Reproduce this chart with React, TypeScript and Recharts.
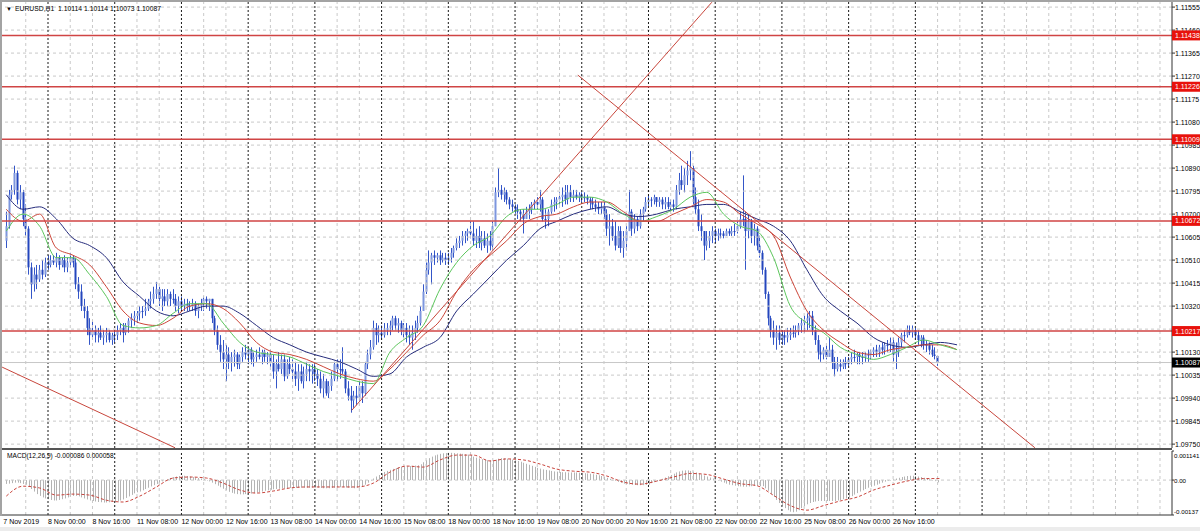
import React from "react";
import { ComposedChart, Bar, Line, XAxis, YAxis, ReferenceLine } from "recharts";

const FONT = "'Liberation Sans', Arial, sans-serif";

// EURUSD H1 candles, 7 Nov 2019 .. 27 Nov 2019 (open = previous close)
const firstOpen = 1.1059;

const highs = [
  1.1071, 1.108, 1.1082, 1.109, 1.1088, 1.1082, 1.108, 1.1074,
  1.1065, 1.105, 1.1048, 1.1049, 1.1049, 1.1051, 1.1052, 1.1053,
  1.1053, 1.1053, 1.1054, 1.1053, 1.1052, 1.1053, 1.1052, 1.1054,
  1.1053, 1.1052, 1.1044, 1.1041, 1.1035, 1.1032, 1.1027, 1.1026,
  1.1024, 1.1023, 1.1024, 1.1022, 1.1023, 1.1022, 1.1021, 1.1022,
  1.1024, 1.1025, 1.1025, 1.1025, 1.1027, 1.1029, 1.103, 1.103,
  1.1032, 1.1032, 1.1035, 1.1035, 1.1038, 1.104, 1.1042, 1.104,
  1.1039, 1.1039, 1.1039, 1.1038, 1.1039, 1.1037, 1.1036, 1.1036,
  1.1035, 1.1035, 1.1034, 1.1035, 1.1034, 1.1033, 1.1035, 1.1036,
  1.1036, 1.1035, 1.1035, 1.1028, 1.1024, 1.102, 1.1018, 1.1016,
  1.1015, 1.1013, 1.1014, 1.1013, 1.1012, 1.1015, 1.1016, 1.1015,
  1.1015, 1.1013, 1.1014, 1.1015, 1.1014, 1.1014, 1.1013, 1.1014,
  1.1012, 1.101, 1.1013, 1.1012, 1.1012, 1.101, 1.1011, 1.101,
  1.1009, 1.1008, 1.1008, 1.1007, 1.1009, 1.1008, 1.1008, 1.1008,
  1.1006, 1.1005, 1.1004, 1.1002, 1.1001, 1.1005, 1.1009, 1.101,
  1.101, 1.1015, 1.1006, 1.1001, 1.0999, 1.0997, 1.0999, 1.1001,
  1.1001, 1.1009, 1.1014, 1.1018, 1.1026, 1.1025, 1.1024, 1.1024,
  1.1025, 1.1025, 1.1026, 1.1028, 1.1028, 1.1027, 1.1026, 1.1025,
  1.1025, 1.1024, 1.1024, 1.1026, 1.1028, 1.1032, 1.1041, 1.105,
  1.1055, 1.1054, 1.1055, 1.1054, 1.1055, 1.1054, 1.1054, 1.1054,
  1.1056, 1.1057, 1.106, 1.1061, 1.1063, 1.1063, 1.1064, 1.1067,
  1.1067, 1.1064, 1.1065, 1.1063, 1.1063, 1.1062, 1.1063, 1.1067,
  1.1081, 1.1089, 1.1082, 1.1081, 1.108, 1.1077, 1.1076, 1.1074,
  1.1074, 1.1072, 1.1072, 1.1073, 1.1074, 1.1075, 1.1076, 1.1077,
  1.108, 1.1077, 1.1072, 1.1072, 1.1076, 1.1077, 1.1077, 1.1079,
  1.1081, 1.1082, 1.1082, 1.1082, 1.108, 1.108, 1.1079, 1.1079,
  1.1079, 1.1078, 1.1077, 1.1077, 1.1076, 1.1075, 1.1075, 1.1075,
  1.1072, 1.107, 1.1068, 1.1067, 1.1065, 1.1065, 1.1063, 1.1065,
  1.108, 1.1072, 1.107, 1.1069, 1.1072, 1.1073, 1.1077, 1.1078,
  1.1077, 1.1078, 1.1077, 1.1077, 1.1077, 1.1077, 1.1077, 1.1076,
  1.1076, 1.1082, 1.1087, 1.109, 1.1089, 1.1092, 1.1096, 1.109,
  1.1081, 1.1076, 1.107, 1.1063, 1.1063, 1.1063, 1.1065, 1.1064,
  1.1064, 1.1064, 1.1063, 1.1064, 1.1064, 1.1065, 1.1066, 1.1067,
  1.1071, 1.1086, 1.1071, 1.107, 1.1068, 1.1066, 1.1065, 1.1061,
  1.1055, 1.1048, 1.1038, 1.1028, 1.1026, 1.1024, 1.1024, 1.1022,
  1.1022, 1.1023, 1.1023, 1.1024, 1.1024, 1.1025, 1.1027, 1.1028,
  1.1029, 1.103, 1.103, 1.1024, 1.102, 1.1016, 1.1015, 1.1016,
  1.1019, 1.1016, 1.1011, 1.1011, 1.101, 1.101, 1.1011, 1.1011,
  1.1013, 1.1014, 1.1013, 1.1013, 1.1013, 1.1013, 1.1014, 1.1014,
  1.1015, 1.1016, 1.1016, 1.1017, 1.1017, 1.1018, 1.1019, 1.1019,
  1.1017, 1.1019, 1.1021, 1.1022, 1.1024, 1.1024, 1.1024, 1.1023,
  1.1022, 1.102, 1.102, 1.1018, 1.1017, 1.1016, 1.1015, 1.10114,
];

const lows = [
  1.1056, 1.1064, 1.1076, 1.1078, 1.1074, 1.1072, 1.1065, 1.1061,
  1.1045, 1.1035, 1.1038, 1.1039, 1.1042, 1.1043, 1.1044, 1.1047,
  1.1048, 1.1049, 1.1048, 1.1047, 1.1048, 1.1046, 1.1046, 1.1048,
  1.1048, 1.1039, 1.1035, 1.103, 1.1027, 1.102, 1.1016, 1.1018,
  1.1017, 1.1017, 1.1018, 1.1016, 1.1017, 1.1017, 1.1016, 1.1017,
  1.1018, 1.102, 1.1017, 1.102, 1.1021, 1.1023, 1.1024, 1.1025,
  1.1026, 1.1027, 1.1028, 1.103, 1.1031, 1.1033, 1.1035, 1.1032,
  1.103, 1.1032, 1.1032, 1.1032, 1.1033, 1.103, 1.1029, 1.103,
  1.103, 1.103, 1.103, 1.103, 1.1028, 1.1027, 1.103, 1.103,
  1.1031, 1.103, 1.1025, 1.102, 1.1014, 1.1009, 1.1006, 1.1001,
  1.1006, 1.1005, 1.1007, 1.1006, 1.1006, 1.1009, 1.101, 1.1008,
  1.1008, 1.1007, 1.1009, 1.101, 1.1008, 1.1009, 1.1008, 1.1007,
  1.1002, 1.0998, 1.1005, 1.1004, 1.1001, 1.1002, 1.1004, 1.1001,
  1.0999, 1.0997, 1.1, 1.0998, 1.1001, 1.1001, 1.1, 1.1001,
  1.0999, 1.0996, 1.0994, 1.0995, 1.0994, 1.0997, 1.1001, 1.1001,
  1.1002, 1.1004, 1.0996, 1.0993, 1.0988, 1.099, 1.0991, 1.0993,
  1.0992, 1.0995, 1.1006, 1.101, 1.1014, 1.1016, 1.1017, 1.1018,
  1.1019, 1.102, 1.102, 1.1022, 1.1022, 1.1021, 1.102, 1.1019,
  1.1017, 1.1016, 1.1014, 1.1018, 1.1021, 1.1024, 1.103, 1.1037,
  1.1045, 1.1041, 1.1049, 1.105, 1.1049, 1.105, 1.1049, 1.1049,
  1.105, 1.1052, 1.1055, 1.1056, 1.1057, 1.1058, 1.1059, 1.106,
  1.1057, 1.1056, 1.1056, 1.1055, 1.1056, 1.1054, 1.1055, 1.1055,
  1.1065, 1.1077, 1.1076, 1.1075, 1.1074, 1.1072, 1.1071, 1.107,
  1.1068, 1.1067, 1.1062, 1.1068, 1.1068, 1.107, 1.1072, 1.1072,
  1.1071, 1.1067, 1.1064, 1.1065, 1.107, 1.1071, 1.1072, 1.1074,
  1.1073, 1.1074, 1.1074, 1.1075, 1.1075, 1.1076, 1.1075, 1.1075,
  1.1075, 1.1074, 1.1072, 1.1072, 1.1071, 1.107, 1.107, 1.1068,
  1.1061, 1.1057, 1.1059, 1.1055, 1.1056, 1.1054, 1.1052, 1.1055,
  1.1063, 1.1061, 1.1062, 1.1063, 1.1064, 1.1067, 1.1071, 1.1073,
  1.1073, 1.1074, 1.1073, 1.1073, 1.1072, 1.1072, 1.1072, 1.1071,
  1.1071, 1.1072, 1.1078, 1.108, 1.1079, 1.1082, 1.1084, 1.1074,
  1.107, 1.1063, 1.1059, 1.1051, 1.1055, 1.1056, 1.1058, 1.1058,
  1.1059, 1.106, 1.106, 1.1061, 1.1061, 1.1061, 1.1061, 1.1062,
  1.1064, 1.1065, 1.1047, 1.106, 1.1058, 1.1057, 1.1055, 1.1052,
  1.1045, 1.1035, 1.1024, 1.1019, 1.1016, 1.1014, 1.1016, 1.1016,
  1.1016, 1.1017, 1.1018, 1.1019, 1.1019, 1.102, 1.1021, 1.1021,
  1.1022, 1.1023, 1.102, 1.1016, 1.101, 1.1009, 1.101, 1.101,
  1.1011, 1.1006, 1.1003, 1.1005, 1.1005, 1.1006, 1.1006, 1.1007,
  1.1008, 1.1009, 1.1008, 1.1008, 1.1008, 1.1009, 1.1009, 1.101,
  1.1011, 1.1011, 1.1011, 1.1012, 1.1012, 1.1013, 1.1013, 1.1009,
  1.1006, 1.1011, 1.1015, 1.1017, 1.1019, 1.102, 1.1019, 1.1018,
  1.1016, 1.1015, 1.1014, 1.1013, 1.1012, 1.1011, 1.101, 1.10073,
];

const closes = [
  1.1065, 1.1078, 1.108, 1.1087, 1.1076, 1.1079, 1.1068, 1.1064,
  1.1048, 1.1041, 1.1045, 1.1043, 1.1047, 1.1045, 1.105, 1.1049,
  1.1051, 1.105, 1.1052, 1.1049, 1.1051, 1.1048, 1.105, 1.1052,
  1.105, 1.1041, 1.1038, 1.1032, 1.103, 1.1023, 1.102, 1.1022,
  1.102, 1.1021, 1.1019, 1.102, 1.1021, 1.1018, 1.102, 1.102,
  1.1022, 1.1023, 1.1021, 1.1024, 1.1026, 1.1027, 1.1028, 1.1029,
  1.103, 1.103, 1.1031, 1.1034, 1.1035, 1.1037, 1.1039, 1.1035,
  1.1036, 1.1034, 1.1037, 1.1035, 1.1035, 1.1032, 1.1034, 1.1032,
  1.1033, 1.1032, 1.1032, 1.1033, 1.103, 1.1032, 1.1033, 1.1035,
  1.1034, 1.1035, 1.1027, 1.1022, 1.1016, 1.1013, 1.101, 1.1012,
  1.1009, 1.1011, 1.1012, 1.1008, 1.1011, 1.1013, 1.1012, 1.1014,
  1.101, 1.1011, 1.1012, 1.1011, 1.1013, 1.1011, 1.1012, 1.1009,
  1.1005, 1.1008, 1.1006, 1.101, 1.1003, 1.1008, 1.1006, 1.1005,
  1.1002, 1.1005, 1.1001, 1.1004, 1.1006, 1.1005, 1.1006, 1.1004,
  1.1002, 1.0998, 1.1001, 1.0996, 1.0999, 1.1002, 1.1008, 1.1006,
  1.1006, 1.1005, 1.0998, 1.0995, 1.0993, 1.0995, 1.0994, 1.0999,
  1.0996, 1.1008, 1.1012, 1.1015, 1.1023, 1.102, 1.1021, 1.102,
  1.1022, 1.1023, 1.1024, 1.1027, 1.1024, 1.1025, 1.1022, 1.1023,
  1.102, 1.1019, 1.1021, 1.1023, 1.1025, 1.103, 1.1038, 1.1047,
  1.105, 1.1053, 1.1052, 1.1053, 1.1051, 1.1052, 1.1051, 1.1052,
  1.1054, 1.1056, 1.1058, 1.1059, 1.1061, 1.1062, 1.1063, 1.1062,
  1.1059, 1.1061, 1.1058, 1.106, 1.1057, 1.1059, 1.1057, 1.1065,
  1.1079, 1.108, 1.1078, 1.1079, 1.1076, 1.1074, 1.1073, 1.1072,
  1.1071, 1.107, 1.1068, 1.1071, 1.1072, 1.1074, 1.1075, 1.1074,
  1.1076, 1.1068, 1.1068, 1.1071, 1.1074, 1.1075, 1.1076, 1.1077,
  1.1078, 1.1076, 1.1079, 1.1077, 1.1078, 1.1077, 1.1078, 1.1077,
  1.1077, 1.1076, 1.1075, 1.1074, 1.1073, 1.1072, 1.1073, 1.107,
  1.1064, 1.1065, 1.1061, 1.1057, 1.1063, 1.1056, 1.1059, 1.1063,
  1.1071, 1.1064, 1.1068, 1.1065, 1.107, 1.1072, 1.1075, 1.1076,
  1.1076, 1.1077, 1.1075, 1.1076, 1.1074, 1.1075, 1.1073, 1.1074,
  1.1073, 1.108, 1.1084, 1.1082, 1.1086, 1.1088, 1.1089, 1.1077,
  1.1072, 1.1065, 1.1063, 1.1057, 1.1059, 1.1061, 1.1063, 1.1061,
  1.1062, 1.1062, 1.1061, 1.1063, 1.1062, 1.1063, 1.1063, 1.1065,
  1.1068, 1.1068, 1.1063, 1.1067, 1.1061, 1.1064, 1.1057, 1.1054,
  1.1047, 1.1037, 1.1027, 1.1022, 1.1019, 1.1021, 1.1018, 1.102,
  1.1019, 1.102, 1.1021, 1.1021, 1.1022, 1.1024, 1.1025, 1.1026,
  1.1027, 1.1028, 1.1022, 1.1018, 1.1013, 1.1012, 1.1014, 1.1011,
  1.1014, 1.1009, 1.1006, 1.1008, 1.1007, 1.1009, 1.1008, 1.101,
  1.1011, 1.1011, 1.1012, 1.1011, 1.1011, 1.1012, 1.1012, 1.1013,
  1.1014, 1.1013, 1.1015, 1.1014, 1.1016, 1.1016, 1.1017, 1.1012,
  1.1013, 1.1017, 1.102, 1.102, 1.1022, 1.1021, 1.1022, 1.102,
  1.1018, 1.1019, 1.1016, 1.1016, 1.1014, 1.1012, 1.10114, 1.10087,
];

// moving averages, one value every 6 bars
const maStep = 6;
const maFast = [
  1.1063, 1.107, 1.1065, 1.1052, 1.1052, 1.1045, 1.1036, 1.1024, 1.1023, 1.1024,
  1.1029, 1.1033, 1.1033, 1.1025, 1.1017, 1.1013, 1.1012, 1.1011, 1.1008, 1.1005,
  1.1003, 1.1001, 1.1, 1.1013, 1.1019, 1.1024, 1.1039, 1.105, 1.1057, 1.1061,
  1.1069, 1.1072, 1.1072, 1.1074, 1.1077, 1.1077, 1.1075, 1.107, 1.1067, 1.1069,
  1.1072, 1.1077, 1.1079, 1.107, 1.1065, 1.1063, 1.1052, 1.1032, 1.1025, 1.1021,
  1.1015, 1.1012, 1.101, 1.1012, 1.1015, 1.1018, 1.1016, 1.1014,
];
const maMid = [
  1.1072, 1.1067, 1.107, 1.1056, 1.1053, 1.1049, 1.104, 1.103, 1.1025, 1.1024,
  1.1027, 1.1032, 1.1033, 1.1031, 1.1025, 1.1017, 1.1013, 1.1012, 1.101, 1.1007,
  1.1004, 1.1002, 1.1001, 1.1006, 1.1013, 1.102, 1.1026, 1.1038, 1.1047, 1.1053,
  1.1059, 1.1066, 1.1069, 1.107, 1.1073, 1.1075, 1.1075, 1.1071, 1.1067, 1.1067,
  1.107, 1.1073, 1.1076, 1.1075, 1.107, 1.1066, 1.1061, 1.1044, 1.103, 1.1022,
  1.1017, 1.1013, 1.1012, 1.1014, 1.1015, 1.1016, 1.1016, 1.1014,
];
const maSlow = [
  1.1078, 1.1072, 1.1073, 1.1068, 1.106, 1.1057, 1.1052, 1.1042, 1.1036, 1.103,
  1.1028, 1.103, 1.1032, 1.1032, 1.1029, 1.1024, 1.1019, 1.1016, 1.1013, 1.1011,
  1.1009, 1.1006, 1.1003, 1.1004, 1.1011, 1.1015, 1.1019, 1.103, 1.1037, 1.1044,
  1.1051, 1.1057, 1.1064, 1.1067, 1.107, 1.1072, 1.1073, 1.107, 1.1069, 1.107,
  1.1072, 1.1073, 1.1074, 1.1074, 1.1071, 1.1068, 1.1065, 1.1059, 1.1047, 1.1036,
  1.103, 1.1025, 1.1019, 1.1016, 1.1015, 1.1016, 1.1017, 1.1016,
];

// MACD(12,26,9) in points (0.00001), main per bar, signal every 6 bars
const macdMain = [
  -15, -14, -12, -10, -10, -12, -15, -18,
  -25, -35, -45, -55, -62, -68, -72, -75,
  -78, -80, -80, -78, -75, -72, -68, -65,
  -62, -62, -64, -68, -72, -76, -80, -82,
  -84, -86, -87, -88, -88, -87, -86, -85,
  -83, -80, -76, -70, -64, -58, -52, -48,
  -45, -40, -35, -30, -25, -20, -15, -10,
  -5, 0, 4, 8, 12, 14, 16, 17,
  17, 16, 14, 12, 10, 8, 6, 4,
  0, -5, -10, -16, -22, -28, -34, -40,
  -46, -50, -53, -55, -56, -56, -55, -54,
  -53, -51, -49, -47, -45, -42, -40, -38,
  -36, -35, -34, -33, -32, -32, -31, -31,
  -30, -30, -30, -30, -30, -30, -30, -30,
  -30, -31, -32, -32, -32, -31, -30, -29,
  -28, -28, -29, -30, -31, -32, -30, -28,
  -25, -18, -10, -2, 6, 14, 20, 26,
  32, 36, 40, 44, 47, 50, 52, 53,
  54, 55, 56, 57, 58, 62, 70, 78,
  86, 92, 97, 100, 103, 105, 106, 107,
  107, 106, 105, 104, 103, 102, 100, 98,
  92, 88, 85, 82, 80, 78, 77, 76,
  80, 84, 86, 86, 84, 82, 80, 78,
  75, 72, 68, 64, 60, 56, 52, 48,
  45, 42, 40, 38, 36, 34, 33, 32,
  31, 31, 30, 30, 30, 30, 29, 28,
  27, 26, 25, 23, 21, 19, 16, 13,
  9, 5, 1, -3, -7, -11, -14, -16,
  -17, -18, -19, -20, -20, -20, -19, -18,
  -12, -8, -4, 0, 5, 10, 15, 20,
  25, 30, 34, 37, 38, 38, 36, 33,
  30, 26, 22, 18, 14, 10, 6, 2,
  -2, -6, -10, -14, -18, -20, -22, -24,
  -25, -26, -26, -25, -24, -22, -22, -24,
  -24, -32, -42, -54, -66, -78, -90, -100,
  -110, -118, -124, -126, -124, -118, -110, -102,
  -95, -90, -86, -84, -82, -82, -82, -82,
  -82, -82, -82, -80, -78, -75, -72, -68,
  -63, -57, -51, -45, -40, -35, -30, -26,
  -22, -18, -14, -10, -6, -3, 0, 3,
  6, 9, 12, 14, 16, 17, 17, 16,
  14, 12, 9, 6, 3, 0, -4, -9,
];
const macdSignal = [
  -63, -24, -31, -59, -55, -59, -79, -86, -63, -27,
  8, 12, 8, -12, -39, -51, -43, -31, -27, -27,
  -27, -27, -12, 31, 55, 51, 79, 98, 98, 75,
  83, 79, 63, 43, 35, 31, 16, -8, -16, -4,
  12, 26, 22, 4, -14, -22, -60, -100, -118, -100,
  -82, -67, -39, -20, -4, 6, 6,
];

const priceTicks = [
  1.0975, 1.09845, 1.0994, 1.10035, 1.1013, 1.10225, 1.1032, 1.10415, 1.1051, 1.10605,
  1.107, 1.10795, 1.1089, 1.10985, 1.1108, 1.11175, 1.1127, 1.11365, 1.1146, 1.11555,
];
const levels = [1.11438, 1.11226, 1.11009, 1.10672, 1.10217];
const bidPrice = 1.10087;

const macdTicks = [114.1, 0, -137];
const macdTickText = ["0.001141", "0.00", "-0.00137"];

const timeBars = [0, 15, 31, 47, 63, 79, 95, 111, 127, 143, 159, 175, 191, 207, 223, 239, 255, 271, 287, 303, 319];
const timeTexts = [
  "7 Nov 2019", "8 Nov 00:00", "8 Nov 16:00", "11 Nov 08:00", "12 Nov 00:00", "12 Nov 16:00",
  "13 Nov 08:00", "14 Nov 00:00", "14 Nov 16:00", "15 Nov 08:00", "18 Nov 00:00", "18 Nov 16:00",
  "19 Nov 08:00", "20 Nov 00:00", "20 Nov 16:00", "21 Nov 08:00", "22 Nov 00:00", "22 Nov 16:00",
  "25 Nov 08:00", "26 Nov 00:00", "26 Nov 16:00",
];

// hand drawn trend lines: [bar, price] -> [bar, price]
const trendFrom = [[124.3, 1.0989], [205.6, 1.11274], [-1.5, 1.10068]];
const trendTo = [[253.8, 1.11575], [370, 1.09735], [60.7, 1.09735]];

const X_DOMAIN: [number, number] = [-1.547, 419.32];
const PRICE_DOMAIN: [number, number] = [1.09734, 1.11576];
const MACD_DOMAIN: [number, number] = [-137, 114.1];

// day separators (dark) and the light grid in between
const dayBars: number[] = [];
for (let b = 15; b <= 351; b += 24) dayBars.push(b);
const gridBars: number[] = [];
for (let b = 7; b <= 415; b += 8) if (!dayBars.includes(b)) gridBars.push(b);

// axis ticks: scale labels first, then the tags so they paint on top
const axisTicks = [...priceTicks, ...levels, bidPrice];

const priceRows = Array.from({ length: 343 }, (_, i) => {
  const row: any = { i };
  if (i < closes.length) {
    row.open = i === 0 ? firstOpen : closes[i - 1];
    row.high = highs[i];
    row.low = lows[i];
    row.close = closes[i];
  }
  if (i % maStep === 0) {
    const k = i / maStep;
    row.fast = maFast[k];
    row.mid = maMid[k];
    row.slow = maSlow[k];
  }
  return row;
});

const macdRows = Array.from({ length: 337 }, (_, i) => {
  const row: any = { i };
  if (i < macdMain.length) row.macd = macdMain[i];
  if (i % maStep === 0) row.signal = macdSignal[i / maStep];
  return row;
});

function Candle(props: any) {
  const { x, y, width, height, payload } = props;
  if (!payload || payload.high == null) return null;
  const { open, close, high, low } = payload;
  const top = Math.min(y, y + height);
  const h = Math.abs(height);
  const span = high - low || 1e-9;
  const py = (p: number) => top + ((high - p) / span) * h;
  const c = Math.round(x + width / 2);
  const bull = close > open;
  const bTop = py(Math.max(open, close));
  const bBot = py(Math.min(open, close));
  return (
    <g>
      <line x1={c + 0.5} x2={c + 0.5} y1={top} y2={top + Math.max(h, 1)} stroke="#3456c8" />
      <rect x={c - 0.5} y={bTop} width={2} height={Math.max(1, bBot - bTop)} fill={bull ? "#7d96de" : "#2446bd"} />
    </g>
  );
}

function HistBar(props: any) {
  const { x, y, width, height } = props;
  if (height == null || isNaN(y)) return null;
  const c = Math.round(x + width / 2);
  const top = Math.min(y, y + height);
  return <rect x={c} y={top} width={1} height={Math.max(0.5, Math.abs(height))} fill="#b4b4b4" />;
}

function PriceTick(props: any) {
  const { x, y, payload } = props;
  const v = payload.value;
  const isLevel = levels.includes(v);
  const isBid = v === bidPrice;
  if (isLevel || isBid) {
    return (
      <g>
        <rect x={x - 3} y={y - 5} width={30} height={10} fill={isBid ? "#000" : "#e8120c"} />
        <text x={x} y={y + 2.5} fontSize={7} fontFamily={FONT} fill="#fff">
          {v.toFixed(5)}
        </text>
      </g>
    );
  }
  return (
    <text x={x} y={y + 2.5} fontSize={7} fontFamily={FONT} fill="#000">
      {v.toFixed(5)}
    </text>
  );
}

function MacdTick(props: any) {
  const { x, y, payload } = props;
  const k = macdTicks.indexOf(payload.value);
  const dy = k === 0 ? 4 : k === 2 ? -4 : 0;
  return (
    <text x={x} y={y + dy + 2.5} fontSize={6.2} fontFamily={FONT} fill="#000">
      {macdTickText[k]}
    </text>
  );
}

function TimeTick(props: any) {
  const { x, y, payload } = props;
  const k = timeBars.indexOf(payload.value);
  return (
    <text x={x - (k === 0 ? 3 : 0)} y={y + 9} fontSize={7} fontFamily={FONT} fill="#000">
      {timeTexts[k]}
    </text>
  );
}

function gridLines(keyPrefix: string) {
  return [
    ...gridBars.map((b) => (
      <ReferenceLine key={keyPrefix + "g" + b} x={b} stroke="#c9c9c9" strokeDasharray="3 3" />
    )),
    ...dayBars.map((b) => (
      <ReferenceLine key={keyPrefix + "d" + b} x={b} stroke="#1a1a1a" strokeDasharray="2 2" />
    )),
  ];
}

export default function App() {
  return (
    <div
      style={{
        position: "fixed",
        left: 0,
        top: 0,
        width: 1200,
        height: 531,
        background: "#fff",
        overflow: "hidden",
        fontFamily: FONT,
      }}
    >
      <div style={{ position: "absolute", left: 0, top: 0 }}>
        <ComposedChart width={1200} height={450} data={priceRows} margin={{ top: 2, right: 0, bottom: 2, left: 2 }}>
          <XAxis type="number" dataKey="i" domain={X_DOMAIN} allowDataOverflow hide />
          <YAxis
            orientation="right"
            domain={PRICE_DOMAIN}
            allowDataOverflow
            ticks={axisTicks}
            interval={0}
            width={28}
            tickSize={3}
            tickMargin={0}
            axisLine={{ stroke: "#333" }}
            tickLine={{ stroke: "#333" }}
            tick={<PriceTick />}
          />
          {priceTicks.map((p) => (
            <ReferenceLine key={"h" + p} y={p} stroke="#c9c9c9" strokeDasharray="3 3" />
          ))}
          {gridLines("p")}
          <ReferenceLine y={bidPrice} stroke="#c8c8c8" />
          <Bar
            dataKey={(d: any) => (d.high == null ? null : [d.low, d.high])}
            barSize={2}
            shape={<Candle />}
            isAnimationActive={false}
          />
          <Line dataKey="slow" type="monotone" stroke="#262c7c" strokeWidth={1} dot={false} connectNulls isAnimationActive={false} />
          <Line dataKey="mid" type="monotone" stroke="#cc4538" strokeWidth={1} dot={false} connectNulls isAnimationActive={false} />
          <Line dataKey="fast" type="monotone" stroke="#5cc65c" strokeWidth={1} dot={false} connectNulls isAnimationActive={false} />
          {levels.map((lv) => (
            <ReferenceLine key={"lv" + lv} y={lv} stroke="#d04444" strokeWidth={1.5} />
          ))}
          {trendFrom.map((f, k) => (
            <ReferenceLine
              key={"t" + k}
              segment={[
                { x: f[0], y: f[1] },
                { x: trendTo[k][0], y: trendTo[k][1] },
              ]}
              stroke="#c8463c"
              strokeWidth={1}
              ifOverflow="visible"
            />
          ))}
        </ComposedChart>
      </div>

      <div style={{ position: "absolute", left: 0, top: 450 }}>
        <ComposedChart width={1200} height={81} data={macdRows} margin={{ top: 1, right: 0, bottom: 0, left: 2 }}>
          <XAxis
            type="number"
            dataKey="i"
            domain={X_DOMAIN}
            allowDataOverflow
            ticks={timeBars}
            interval={0}
            height={16}
            tickSize={0}
            tickMargin={0}
            tickLine={false}
            axisLine={{ stroke: "#333" }}
            tick={<TimeTick />}
          />
          <YAxis
            orientation="right"
            domain={MACD_DOMAIN}
            allowDataOverflow
            ticks={macdTicks}
            interval={0}
            width={28}
            tickSize={2}
            tickMargin={0}
            axisLine={{ stroke: "#333" }}
            tickLine={{ stroke: "#333" }}
            tick={<MacdTick />}
          />
          <ReferenceLine y={0} stroke="#c9c9c9" strokeDasharray="3 3" />
          {gridLines("m")}
          <Bar dataKey="macd" barSize={1} shape={<HistBar />} isAnimationActive={false} />
          <Line
            dataKey="signal"
            type="monotone"
            stroke="#c9443c"
            strokeWidth={1}
            strokeDasharray="3 2"
            dot={false}
            connectNulls
            isAnimationActive={false}
          />
        </ComposedChart>
      </div>

      {/* window frame and panel separators */}
      <div style={{ position: "absolute", left: 0, top: 0, width: 1200, height: 2, background: "#a3a3a3" }} />
      <div style={{ position: "absolute", left: 0, top: 0, width: 2, height: 516, background: "#a3a3a3" }} />
      <div style={{ position: "absolute", left: 2, top: 448, width: 1170, height: 2, background: "#555" }} />
      <div style={{ position: "absolute", left: 0, top: 527, width: 1200, height: 4, background: "#ececec" }} />

      <svg width={1200} height={531} style={{ position: "absolute", left: 0, top: 0, pointerEvents: "none" }}>
        <text x={6} y={10.5} fontSize={6} fontFamily={FONT} fill="#000">
          ▼
        </text>
        <text x={15} y={10.8} fontSize={6.8} fontFamily={FONT} fill="#000" style={{ whiteSpace: "pre" }}>
          EURUSD,H1  1.10114 1.10114 1.10073 1.10087
        </text>
        <text x={7} y={457.5} fontSize={6.6} fontFamily={FONT} fill="#000">
          MACD(12,26,9) -0.000086 0.000058
        </text>
      </svg>
    </div>
  );
}
